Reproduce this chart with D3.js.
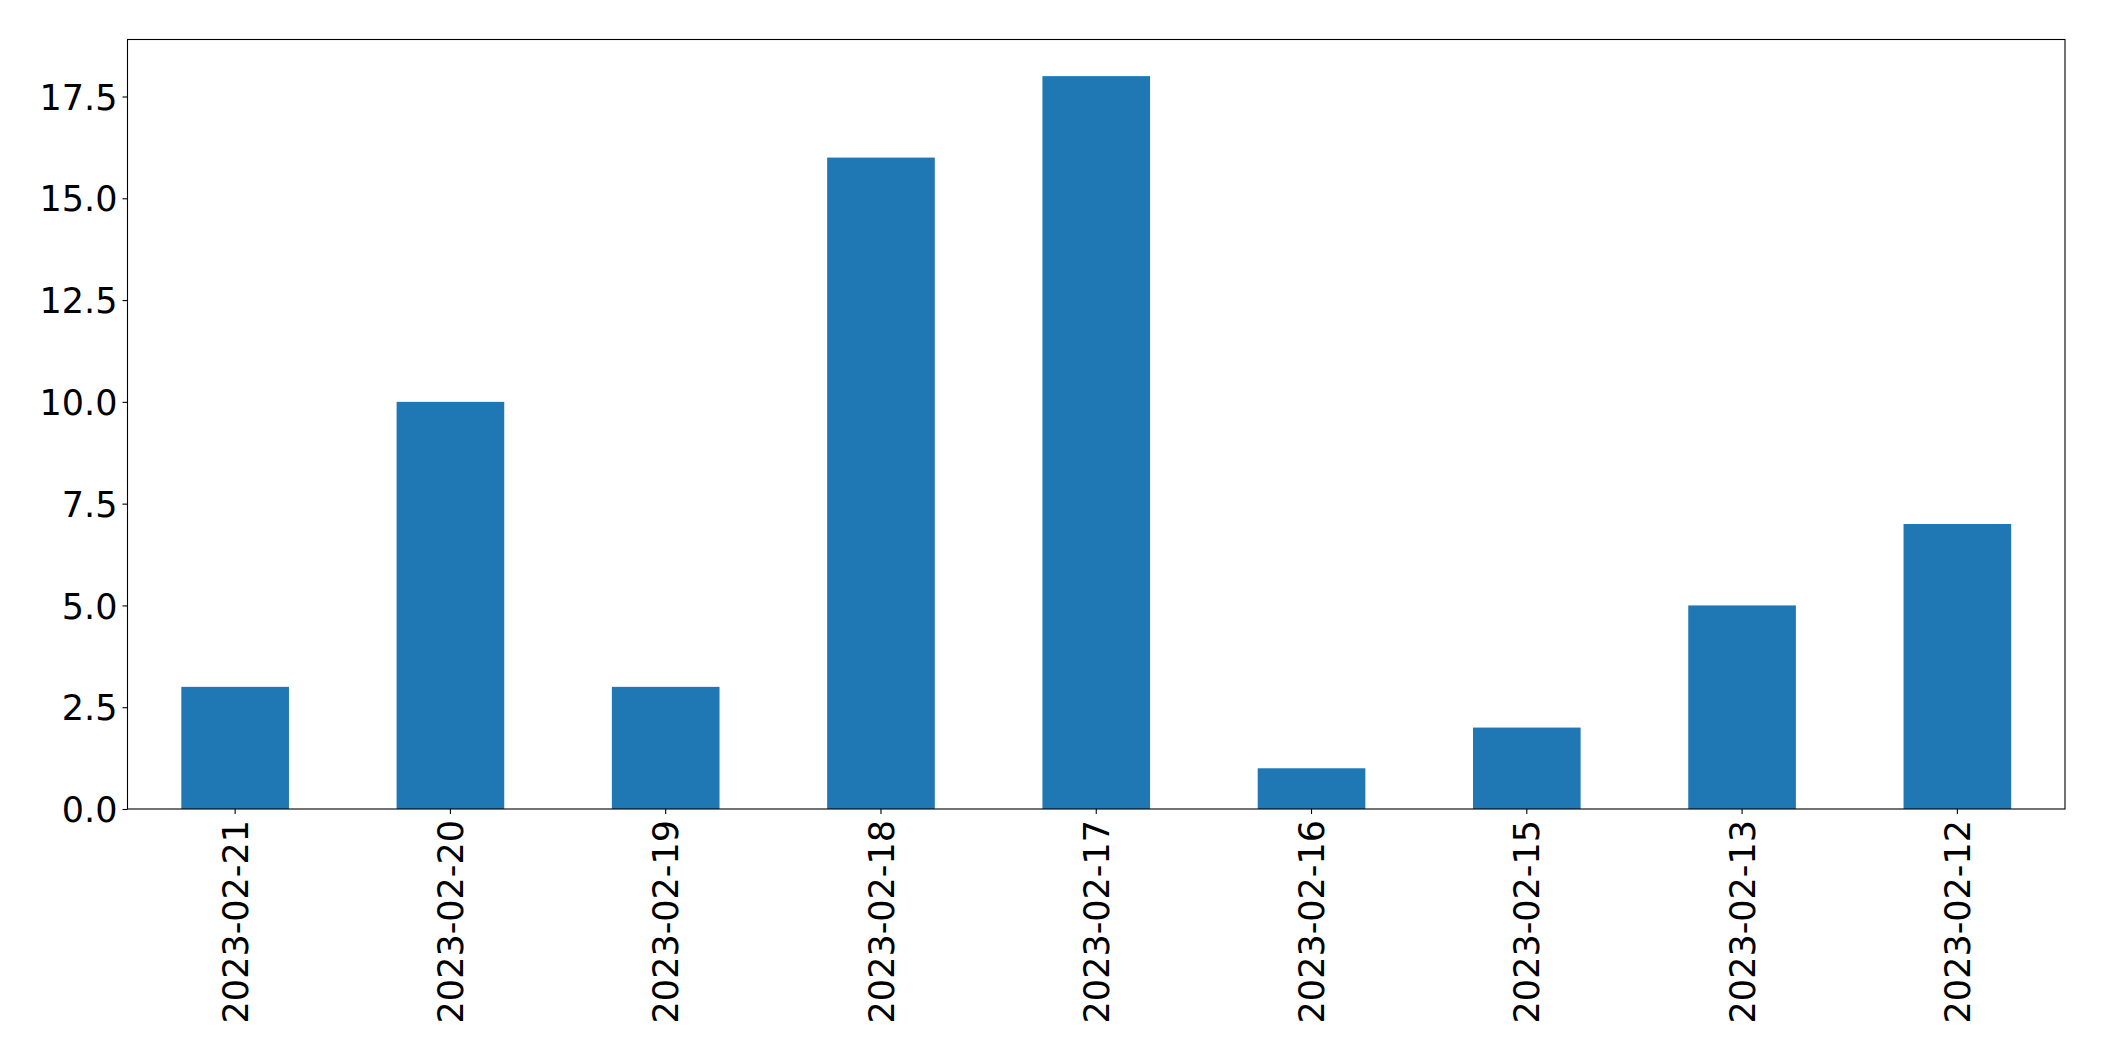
<!DOCTYPE html>
<html><head><meta charset="utf-8">
<script src="https://cdn.jsdelivr.net/npm/d3@7"></script>
<style>body{margin:0;background:#fff}svg{display:block}</style>
</head><body>
<script>
const categories = ["2023-02-21","2023-02-20","2023-02-19","2023-02-18","2023-02-17","2023-02-16","2023-02-15","2023-02-13","2023-02-12"];
const values = [3,10,3,16,18,1,2,5,7];
const yTicks = [0,2.5,5,7.5,10,12.5,15,17.5];

const W=2104,H=1061;
const m={left:127.5,right:2065,top:39.5,bottom:809};
const svg=d3.select("body").append("svg").attr("width",W).attr("height",H);
const x=d3.scaleBand().domain(categories).range([m.left,m.right]).paddingInner(0.5).paddingOuter(0.25);
const y=d3.scaleLinear().domain([0,18*1.05]).range([m.bottom,m.top]);

svg.append("g").selectAll("rect").data(values).join("rect")
  .attr("x",(d,i)=>x(categories[i])).attr("width",x.bandwidth())
  .attr("y",d=>y(d)).attr("height",d=>y(0)-y(d)).attr("fill","#1f77b4");

svg.append("rect").attr("x",m.left).attr("y",m.top).attr("width",m.right-m.left).attr("height",m.bottom-m.top)
  .attr("fill","none").attr("stroke","#000").attr("stroke-width",1.1);

const font="'DejaVu Sans', sans-serif";
const ya=svg.append("g").attr("transform",`translate(${m.left},0)`)
  .call(d3.axisLeft(y).tickValues(yTicks).tickFormat(d3.format(".1f")).tickSize(5).tickPadding(5));
ya.select(".domain").remove();
ya.selectAll("line").attr("stroke","#000").attr("stroke-width",1.1);
ya.selectAll("text").attr("font-family",font).attr("font-size",35).attr("fill","#000").attr("dy","0.36em");

const xa=svg.append("g").attr("transform",`translate(0,${m.bottom})`)
  .call(d3.axisBottom(x).tickSize(5).tickPadding(0));
xa.select(".domain").remove();
xa.selectAll("line").attr("stroke","#000").attr("stroke-width",1.1);
xa.selectAll("text").attr("font-family",font).attr("font-size",35).attr("fill","#000")
  .attr("text-anchor","end").attr("y",0)
  .attr("transform","translate(0,11) rotate(-90)").attr("dy","0.36em").attr("x",0);
</script>
</body></html>
